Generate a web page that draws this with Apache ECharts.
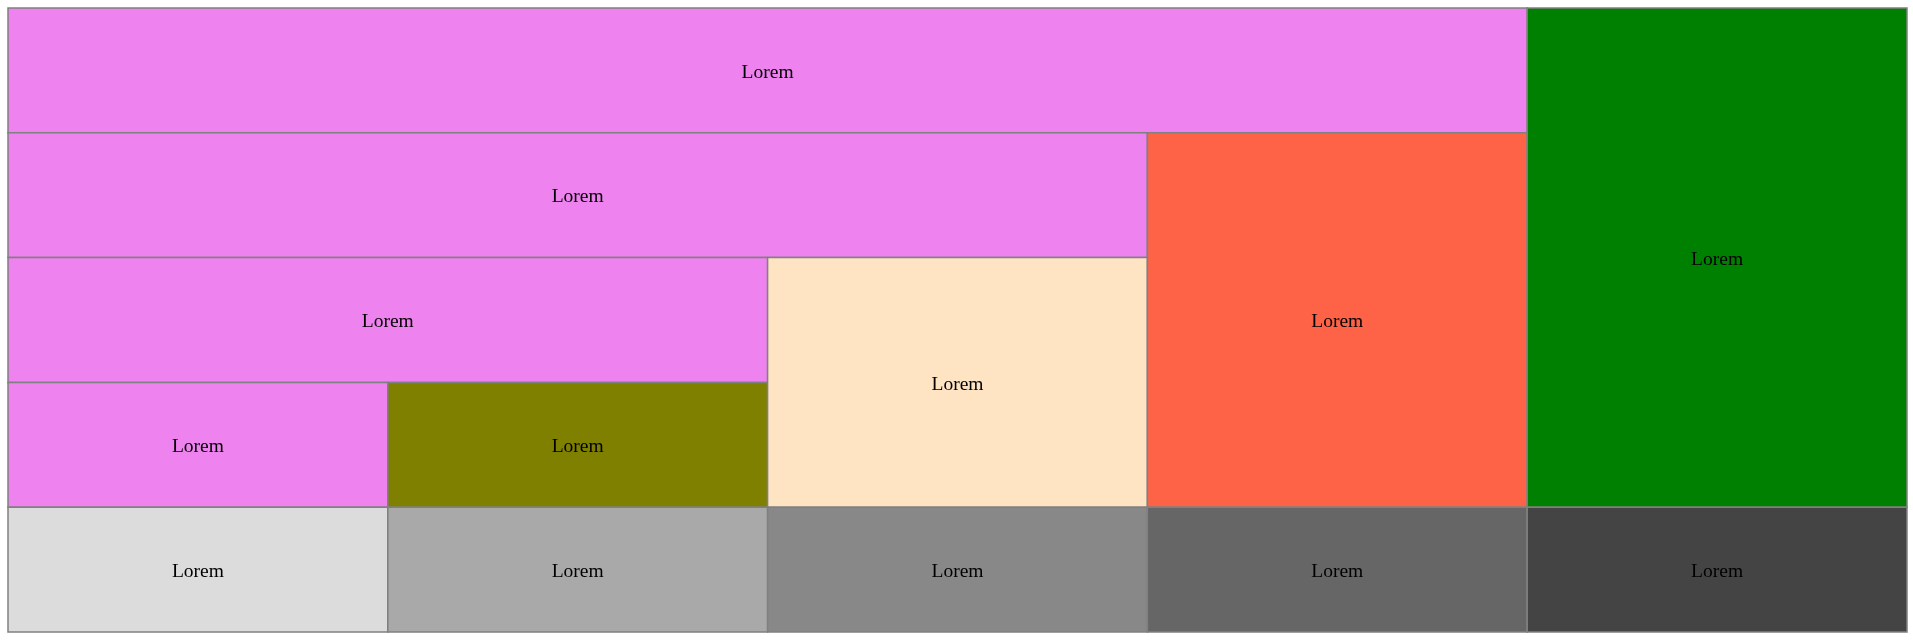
<!DOCTYPE html>
<html>
<head>
<meta charset="utf-8">
<script src="https://cdn.jsdelivr.net/npm/echarts@6/dist/echarts.min.js"></script>
<style>
html,body{margin:0;padding:0;background:#fff;}
#chart{width:1913px;height:640px;}
</style>
</head>
<body>
<div id="chart"></div>
<script>
// Cell labels
const labels = ['Lorem','Lorem','Lorem','Lorem','Lorem','Lorem','Lorem','Lorem','Lorem','Lorem','Lorem','Lorem','Lorem'];
// Column span (grid units, 5 columns)
const colStart = [0, 0, 0, 0, 1, 2, 3, 4, 0, 1, 2, 3, 4];
const colEnd   = [4, 3, 2, 1, 2, 3, 4, 5, 1, 2, 3, 4, 5];
// Row span (grid units, 5 rows, from top)
const rowStart = [0, 1, 2, 3, 3, 2, 1, 0, 4, 4, 4, 4, 4];
const rowEnd   = [1, 2, 3, 4, 4, 4, 4, 4, 5, 5, 5, 5, 5];
// Fill colours
const fills = ['#EE82EE','#EE82EE','#EE82EE','#EE82EE','#808000','#FFE4C4','#FF6347','#008000',
               '#DCDCDC','#A9A9A9','#888888','#666666','#444444'];

const data = labels.map((l, i) => [colStart[i], rowStart[i], colEnd[i], rowEnd[i], l, fills[i]]);

const chart = echarts.init(document.getElementById('chart'), null, {renderer: 'canvas'});
chart.setOption({
  animation: false,
  grid: {left: 8, right: 6, top: 8, bottom: 8},
  xAxis: {type: 'value', min: 0, max: 5, show: false},
  yAxis: {type: 'value', min: 0, max: 5, inverse: true, show: false},
  series: [{
    type: 'custom',
    data: data,
    renderItem: function (params, api) {
      const p0 = api.coord([api.value(0), api.value(1)]);
      const p1 = api.coord([api.value(2), api.value(3)]);
      const i = params.dataIndex;
      const x = Math.min(p0[0], p1[0]), y = Math.min(p0[1], p1[1]);
      const w = Math.abs(p1[0] - p0[0]), h = Math.abs(p1[1] - p0[1]);
      return {
        type: 'group',
        children: [{
          type: 'rect',
          shape: {x: x, y: y, width: w, height: h},
          style: {fill: fills[i], stroke: '#808080', lineWidth: 1.5}
        }, {
          type: 'text',
          style: {
            x: x + w / 2, y: y + h / 2 + 2,
            text: labels[i],
            fill: '#000',
            font: '19.5px "Liberation Serif", "DejaVu Serif", serif',
            align: 'center', verticalAlign: 'middle'
          }
        }]
      };
    }
  }]
});
</script>
</body>
</html>
